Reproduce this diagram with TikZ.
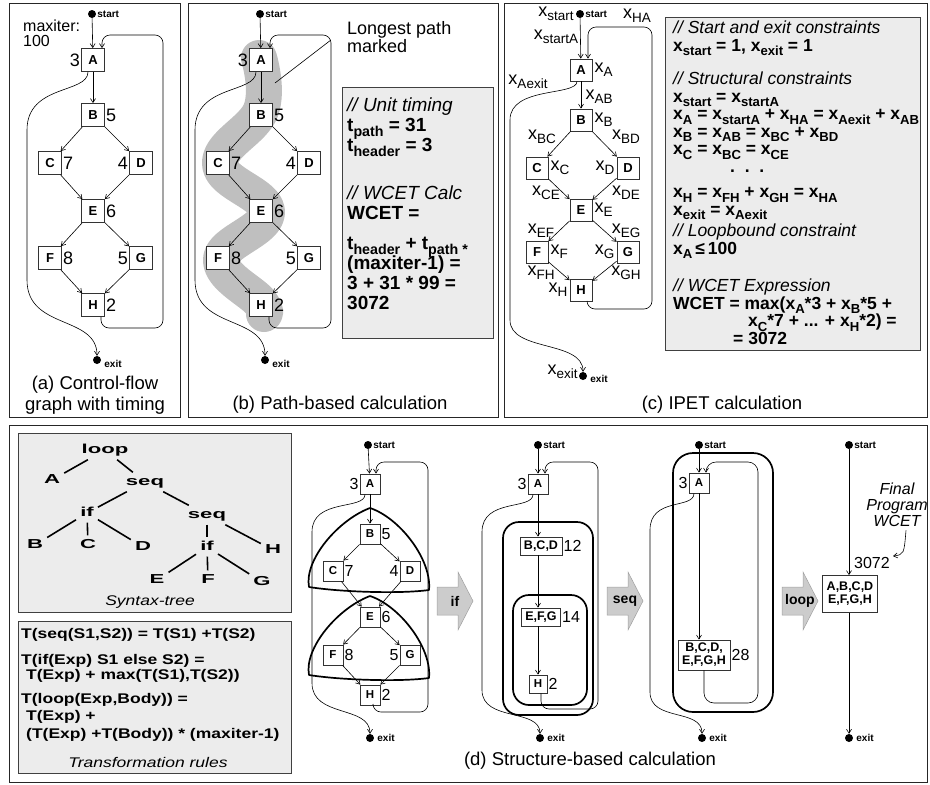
\documentclass[tikz,border=0pt]{standalone}
\usepackage{fontspec}
\setmainfont{Liberation Sans}
\newfontfamily\treefont{Liberation Sans}[FakeStretch=1.7]
\newfontfamily\rulefont{Liberation Sans}[FakeStretch=1.25]
\usetikzlibrary{arrows.meta,positioning}

\newcommand{\fsz}[1]{\fontsize{#1}{#1}\selectfont}
\newcommand{\low}[1]{\raisebox{-0.45ex}{\scalebox{0.75}{#1}}}
\newcommand{\xsub}[1]{x\low{#1}}
\newcommand{\cmt}[1]{{\mdseries\itshape #1}}

\tikzset{
  pic frame/.style={draw=black!85, line width=0.9pt},
  blk/.style={draw=black!80, fill=white, line width=0.8pt, minimum size=23, inner sep=0pt, font=\bfseries\fsz{13}},
  sblk/.style={blk, minimum size=20, font=\bfseries\fsz{11.5}},
  grp/.style={draw=black!80, fill=white, line width=0.8pt, inner xsep=4pt, inner ysep=2pt, minimum height=18, align=center, font=\bfseries\fontsize{12.5}{13}\selectfont},
  term/.style={circle, fill, inner sep=0pt, minimum size=8},
  termtag/.style={font=\bfseries\fsz{10}, anchor=west, inner sep=1pt},
  wt/.style={font=\fsz{18}, inner sep=1pt},
  swt/.style={font=\fsz{16}, inner sep=1pt},
  xlab/.style={font=\fsz{18}, inner sep=0pt},
  flow/.style={-{Straight Barb[length=4pt,width=5pt]}, line width=0.6pt},
  caption/.style={font=\fontsize{18.5}{21}\selectfont, align=center},
  calcbox/.style={draw=black!75, fill=gray!15, line width=0.8pt},
  calctext/.style={align=left, inner sep=0pt, anchor=north west, execute at begin node={\lineskiplimit=-100pt\lineskip=0pt}},
  region/.style={line width=1.7pt, line join=round},
  opshape/.style={fill=gray!40, draw=gray!75, line width=0.5pt},
  opname/.style={font=\bfseries\fsz{14}},
  treenode/.style={font=\treefont\bfseries\fsz{13}, inner sep=4pt, text height=9pt, text depth=2pt},
  treeedge/.style={line width=1.6pt},
}

\begin{document}
\begin{tikzpicture}[x=1pt, y=-1pt]
    \useasboundingbox (0,0) rectangle (930,785);

    % panel frames
    \draw[pic frame] (9,3) rectangle (180,417);
    \draw[pic frame] (188,3) rectangle (498,417);
    \draw[pic frame] (504,3) rectangle (927,417);
    \draw[pic frame] (9,425) rectangle (927,782);

    % longest path of (b), under the graph
    \draw[gray!50, line width=36, line cap=round, line join=round]
        plot[smooth, tension=0.7] coordinates {(259,58) (261,110) (220,164) (267,212) (221,259) (260,302) (264,314)};

    % control-flow graphs (a) and (b)
    \foreach \p/\dx in {a/0, b/168} {
        \begin{scope}[xshift=\dx, name prefix=\p-]
            \node[term] (S) at (92,14) {};
            \node[termtag] (S-t) at (S.east) {start};
            \foreach \n/\x/\y in {A/93/60, B/93/115, C/50/163, D/141/163, E/93/211, F/50/258, G/141/258, H/93/305}
                \node[blk] (\n) at (\x,\y) {\n};
            \foreach \n/\w/\wa/\wb in {A/3/east/west, B/5/west/east, C/7/west/east, D/4/east/west, E/6/west/east, F/8/west/east, G/5/east/west, H/2/west/east}
                \node[wt, anchor=\wa] (\n-t) at (\n.\wb) {\w};
            \node[term] (X) at (97,360) {};
            \node[termtag] (X-t) at ([xshift=2pt,yshift=-4pt]X.east) {exit};
            \draw[flow] (S) -- (A);
            \foreach \u/\v in {A/B, B/C, B/D, C/E, D/E, E/F, E/G, F/H, G/H}
                \draw[flow] (\u) -- (\v);
            % exit edge and back edge
            \draw[flow] ([xshift=-5pt]A.south) .. controls +(0,22) and (27,84) .. (27,130) -- (27,280) .. controls (27,330) and (97,315) .. (X);
            \draw[flow, rounded corners=8] ([xshift=8pt]H.south) |- (163,328) |- (102,35) -- ([xshift=9pt]A.north);
        \end{scope}
    }

    \node[font=\fontsize{16}{15}\selectfont, align=left, anchor=north west, inner sep=0pt] (maxiter) at (23,20) {maxiter:\\100};
    \node[caption] (cap-a) at (95,395) {(a) Control-flow\\graph with timing};

    % (b) note and calculation
    \node[font=\fontsize{18}{15}\selectfont, align=left, anchor=north west, inner sep=0pt] (lp-note) at (347,21) {Longest path\\marked};
    \coordinate (lp-end) at (275,83);
    \draw[line width=0.6pt] ([xshift=-17pt,yshift=-4pt]lp-note.west) -- (lp-end);
    \draw[calcbox] (342,87) rectangle (493,338);
    \node[calctext, font=\bfseries\fontsize{19}{20}\selectfont] (b-calc) at (347,98) {%
        \cmt{// Unit timing}\\
        t\low{path} = 31\\
        t\low{header} = 3\\[28pt]
        \cmt{// WCET Calc}\\
        WCET =\\[10pt]
        t\low{header} + t\low{path *}\\
        (maxiter-1) =\\
        3 + 31 * 99 =\\
        3072};
    \node[caption] (cap-b) at (340,405) {(b) Path-based calculation};

    % (c) IPET graph
    \node[term] (c-S) at (580,14) {};
    \node[termtag] (c-S-t) at (c-S.east) {start};
    \node[xlab, anchor=east] (c-xstart) at ([xshift=-2pt]c-S.west) {\xsub{start}};
    \foreach \n/\x/\y in {A/581/70, B/581/120, C/537/168, D/628/168, E/581/210, F/537/252, G/628/252, H/581/290}
        \node[blk, minimum size=22] (c-\n) at (\x,\y) {\n};
    \node[term] (c-X) at (583,376) {};
    \node[termtag] (c-X-t) at ([xshift=2pt,yshift=-3pt]c-X.east) {exit};
    \node[xlab, anchor=east] (c-xexit) at ([xshift=-1pt,yshift=4pt]c-X.west) {\xsub{exit}};
    \foreach \n/\wa/\wb in {A/west/east, B/west/east, C/west/east, D/east/west, E/west/east, F/west/east, G/east/west, H/east/west}
        \node[xlab, inner sep=2pt, anchor=\wa] (c-x\n) at (c-\n.\wb) {\xsub{\n}};
    \foreach \n/\x/\y in {startA/556/37, HA/637/16, Aexit/528/82, AB/599/97, BC/542/137, BD/626/137, CE/546/193, DE/626/193, EF/541/231, EG/626/231, FH/541/273, GH/626/273}
        \node[xlab] (c-x\n) at (\x,\y) {\xsub{\n}};
    \draw[flow] (c-S) -- (c-A);
    \foreach \u/\v in {A/B, B/C, B/D, C/E, D/E, E/F, E/G, F/H, G/H}
        \draw[flow] (c-\u) -- (c-\v);
    \draw[flow] ([xshift=-4pt]c-A.south) .. controls +(0,15) and (510,86) .. (510,120) -- (510,320) .. controls (510,352) and (583,340) .. (c-X);
    \draw[flow, rounded corners=8] ([xshift=6pt]c-H.south) |- (652,309) |- (588,27) -- ([xshift=7pt]c-A.north);

    % (c) constraints
    \draw[calcbox] (665,17) rectangle (920,350);
    \node[calctext, font=\bfseries\fontsize{17.5}{17.5}\selectfont] (c-calc) at (673,21) {%
        \cmt{// Start and exit constraints}\\
        \xsub{start} = 1, \xsub{exit} = 1\\[16pt]
        \cmt{// Structural constraints}\\
        \xsub{start} = \xsub{startA}\\
        \xsub{A} = \xsub{startA} + \xsub{HA} = \xsub{Aexit} + \xsub{AB}\\
        \xsub{B} = \xsub{AB} = \xsub{BC} + \xsub{BD}\\
        \xsub{C} = \xsub{BC} = \xsub{CE}\\
        \hspace*{57pt}.\ \ .\ \ .\\[8pt]
        \xsub{H} = \xsub{FH} + \xsub{GH} = \xsub{HA}\\
        \xsub{exit} = \xsub{Aexit}\\[4pt]
        \cmt{// Loopbound constraint}\\
        \xsub{A}\,≤\,100\\[20pt]
        \cmt{// WCET Expression}\\
        WCET = max(\xsub{A}*3 + \xsub{B}*5 +\\
        \hspace*{75pt}\xsub{C}*7 + ... + \xsub{H}*2) =\\
        \hspace*{60pt}= 3072};
    \node[caption] (cap-c) at (722,405) {(c) IPET calculation};

    % (d) syntax tree
    \draw[calcbox] (18,433) rectangle (291,612);
    \foreach \n/\w/\x/\y in {loop/loop/105/450, A/A/52/480, seq1/seq/145/482, if1/if/87/513, seq2/seq/207/515, B/B/35/545, C/C/88/545, D/D/143/547, if2/if/207/547, H/H/273/550, E/E/157/580, F/F/208/580, G/G/262/582}
        \node[treenode] (t-\n) at (\x,\y) {\w};
    \foreach \u/\v in {loop/A, loop/seq1, seq1/if1, seq1/seq2, if1/B, if1/C, if1/D, seq2/if2, seq2/H, if2/E, if2/F, if2/G}
        \draw[treeedge] (t-\u) -- (t-\v);
    \node[font=\rulefont\itshape\fsz{14}] (tree-cap) at (150,602) {Syntax-tree};

    % (d) transformation rules
    \draw[calcbox] (18,621) rectangle (291,773);
    \node[calctext, font=\rulefont\bfseries\fontsize{14}{15}\selectfont] (rules) at (21,628) {%
        T(seq(S1,S2)) = T(S1) +T(S2)\\[11pt]
        T(if(Exp) S1 else S2) =\\
        \hspace*{5pt}T(Exp) + max(T(S1),T(S2))\\[9pt]
        T(loop(Exp,Body)) =\\[2pt]
        \hspace*{5pt}T(Exp) +\\[3pt]
        \hspace*{5pt}(T(Exp) +T(Body)) * (maxiter-1)};
    \node[font=\rulefont\itshape\fsz{14}] (rules-cap) at (148,762) {Transformation rules};

    % (d) step 1: if regions
    \node[term] (d1-S) at (368,445) {};
    \node[termtag] (d1-S-t) at (d1-S.east) {start};
    \foreach \n/\x/\y in {A/370/484, B/370/534, C/333/571, D/410/571, E/370/617, F/333/655, G/410/655, H/370/695}
        \node[sblk] (d1-\n) at (\x,\y) {\n};
    \foreach \n/\w/\wa/\wb in {A/3/east/west, B/5/west/east, C/7/west/east, D/4/east/west, E/6/west/east, F/8/west/east, G/5/east/west, H/2/west/east}
        \node[swt, anchor=\wa] (d1-\n-t) at (d1-\n.\wb) {\w};
    \node[term] (d1-X) at (370,738) {};
    \node[termtag] (d1-X-t) at ([xshift=2pt]d1-X.east) {exit};
    \draw[flow] (d1-S) -- (d1-A);
    \foreach \u/\v in {A/B, B/C, B/D, C/E, D/E, E/F, E/G, F/H, G/H}
        \draw[flow] (d1-\u) -- (d1-\v);
    \draw[flow] ([xshift=-5pt]d1-A.south) .. controls +(0,16) and (312,498) .. (312,532) -- (312,683) .. controls (312,718) and (370,705) .. (d1-X);
    \draw[flow, rounded corners=8] ([xshift=3pt]d1-H.south) |- (428,712) |- (376,462) -- ([xshift=6pt]d1-A.north);
    \foreach \dy in {0,88}
        \draw[region] (370,508+\dy) .. controls (338,520+\dy) and (304,560+\dy) .. (309,587+\dy)
            .. controls (340,592+\dy) and (400,594+\dy) .. (429,590+\dy)
            .. controls (432,560+\dy) and (400,518+\dy) .. (370,508+\dy);

    % (d) step 2: seq regions
    \node[term] (d2-S) at (538,445) {};
    \node[termtag] (d2-S-t) at (d2-S.east) {start};
    \node[sblk] (d2-A) at (538,484) {A};
    \node[grp] (d2-BCD) at (541,546) {B,C,D};
    \node[grp] (d2-EFG) at (541,617) {E,F,G};
    \node[sblk, minimum size=18] (d2-H) at (538,684) {H};
    \node[swt, anchor=east] (d2-A-t) at (d2-A.west) {3};
    \node[swt, anchor=west] (d2-BCD-t) at (d2-BCD.east) {12};
    \node[swt, anchor=west] (d2-EFG-t) at (d2-EFG.east) {14};
    \node[swt, anchor=west] (d2-H-t) at (d2-H.east) {2};
    \node[term] (d2-X) at (540,738) {};
    \node[termtag] (d2-X-t) at ([xshift=2pt]d2-X.east) {exit};
    \draw[region, rounded corners=16] (503,522) rectangle (593,715);
    \draw[region, rounded corners=16] (513,595) rectangle (587,705);
    \draw[flow] (d2-S) -- (d2-A);
    \draw[flow] (d2-A) -- (d2-A |- d2-BCD.north);
    \draw[flow] (d2-A |- d2-BCD.south) -- (d2-A |- d2-EFG.north);
    \draw[flow] (d2-A |- d2-EFG.south) -- (d2-H);
    \draw[flow] ([xshift=-5pt]d2-A.south) .. controls +(0,16) and (482,498) .. (482,532) -- (482,690) .. controls (482,722) and (540,708) .. (d2-X);
    \draw[flow, rounded corners=8] ([xshift=3pt]d2-H.south) |- (598,709) |- (545,462) -- ([xshift=7pt]d2-A.north);

    % (d) step 3: loop region
    \node[term] (d3-S) at (699,445) {};
    \node[termtag] (d3-S-t) at (d3-S.east) {start};
    \node[sblk] (d3-A) at (699,483) {A};
    \node[grp, minimum width=52, minimum height=30] (d3-BH) at (704,655) {B,C,D,\\E,F,G,H};
    \node[swt, anchor=east] (d3-A-t) at (d3-A.west) {3};
    \node[swt, anchor=west] (d3-BH-t) at (d3-BH.east) {28};
    \node[term] (d3-X) at (702,738) {};
    \node[termtag] (d3-X-t) at ([xshift=2pt]d3-X.east) {exit};
    \draw[region, rounded corners=20] (673,453) rectangle (773,712);
    \draw[flow] (d3-S) -- (d3-A);
    \draw[flow] (d3-A) -- (d3-A |- d3-BH.north);
    \draw[flow] ([xshift=-5pt]d3-A.south) .. controls +(0,16) and (650,497) .. (650,530) -- (650,692) .. controls (650,722) and (702,708) .. (d3-X);
    \draw[flow, rounded corners=10] (d3-BH.south) |- (758,703) |- (706,462) -- ([xshift=7pt]d3-A.north);

    % (d) step 4: whole program
    \node[term] (d4-S) at (849,445) {};
    \node[termtag] (d4-S-t) at (d4-S.east) {start};
    \node[grp, minimum width=52, minimum height=37] (d4-all) at (850,594) {A,B,C,D\\E,F,G,H};
    \node[term] (d4-X) at (849,738) {};
    \node[termtag] (d4-X-t) at ([xshift=2pt]d4-X.east) {exit};
    \draw[flow] (d4-S) -- (d4-S |- d4-all.north);
    \draw[flow] (d4-S |- d4-all.south) -- (d4-X);
    \node[swt, anchor=west] (d4-t) at (853,563) {3072};
    \node[font=\itshape\fontsize{16}{16}\selectfont, align=center] (d4-note) at (897,505) {Final\\Program\\WCET};
    \draw[flow] ([xshift=9pt]d4-note.south) .. controls +(-2,24) .. ([xshift=2pt]d4-t.north east);

    % reduction steps
    \foreach \x/\w in {437/if, 607/seq, 782/loop} {
        \filldraw[opshape] (\x,587) -- ++(21,0) -- ++(0,-15) -- ++(15,29) -- ++(-15,29) -- ++(0,-15) -- ++(-21,0) -- cycle;
        \node[opname] (op-\w) at (\x+18,601) {\w};
    }
    \node[caption] (cap-d) at (590,761) {(d) Structure-based calculation};
\end{tikzpicture}
\end{document}
